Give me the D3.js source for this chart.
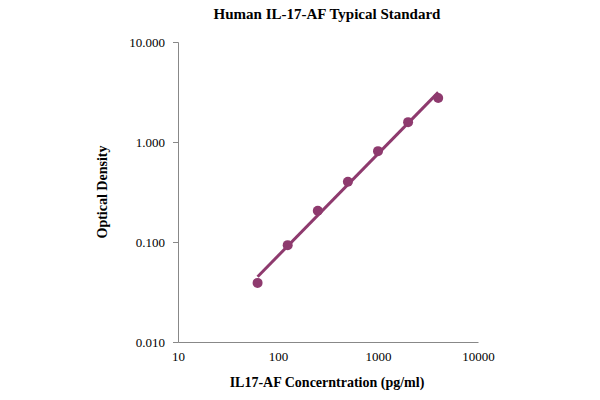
<!DOCTYPE html>
<html><head><meta charset="utf-8">
<script src="https://cdn.jsdelivr.net/npm/d3@7"></script>
<style>body{margin:0;background:#fff}text{font-family:"Liberation Serif","Times New Roman",serif}</style>
</head><body>
<script>
// data
const conc = [62.5, 125, 250, 500, 1000, 2000, 4000];
const od = [0.039, 0.093, 0.205, 0.40, 0.81, 1.58, 2.75];
const xTicks = [10, 100, 1000, 10000];
const yTicks = [0.01, 0.1, 1, 10];

const svg = d3.select('body').append('svg').attr('width', 600).attr('height', 400);
const x = d3.scaleLog().domain([10, 10000]).range([178, 478]);
const y = d3.scaleLog().domain([0.01, 10]).range([342, 42]);

// axes
svg.append('g').attr('transform', 'translate(0,342)')
  .call(d3.axisBottom(x).tickValues(xTicks).tickFormat(d3.format('d')).tickSize(0).tickPadding(10))
  .call(g => g.select('.domain').attr('stroke', '#888'))
  .selectAll('text').style('font-size', '13px').attr('fill', '#000');
svg.append('g').attr('transform', 'translate(178,0)')
  .call(d3.axisLeft(y).tickValues(yTicks).tickFormat(d3.format('.3f')).tickSize(5).tickPadding(8))
  .call(g => g.selectAll('.domain,line').attr('stroke', '#888'))
  .selectAll('text').style('font-size', '13px').attr('fill', '#000');

// power trendline fitted in log-log space
const lx = conc.map(Math.log10), ly = od.map(Math.log10);
const mx = d3.mean(lx), my = d3.mean(ly);
const b = d3.sum(lx.map((v, i) => (v - mx) * (ly[i] - my))) / d3.sum(lx.map(v => (v - mx) ** 2));
const a = my - b * mx;
const fx = [conc[0], conc[conc.length - 1]];
svg.append('line')
  .attr('x1', x(fx[0])).attr('y1', y(10 ** (a + b * Math.log10(fx[0]))))
  .attr('x2', x(fx[1])).attr('y2', y(10 ** (a + b * Math.log10(fx[1]))))
  .attr('stroke', '#8e3a6e').attr('stroke-width', 3);

svg.selectAll('circle.pt').data(conc).join('circle')
  .attr('cx', d => x(d)).attr('cy', (d, i) => y(od[i])).attr('r', 5)
  .attr('fill', '#8e3a6e');

// titles
svg.append('text').attr('x', 327).attr('y', 19).attr('text-anchor', 'middle')
  .style('font-size', '15px').style('font-weight', 'bold').text('Human IL-17-AF Typical Standard');
svg.append('text').attr('x', 327).attr('y', 387).attr('text-anchor', 'middle')
  .style('font-size', '14px').style('font-weight', 'bold').text('IL17-AF Concerntration (pg/ml)');
svg.append('text').attr('transform', 'translate(107,192) rotate(-90)').attr('text-anchor', 'middle')
  .style('font-size', '14px').style('font-weight', 'bold').text('Optical Density');
</script>
</body></html>
